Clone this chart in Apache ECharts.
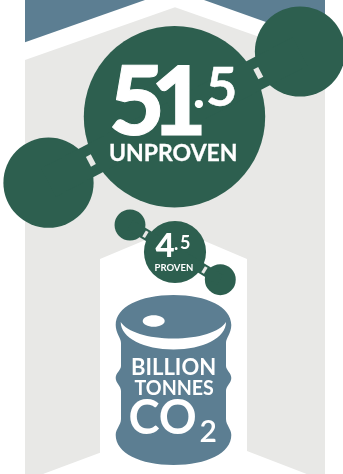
<!DOCTYPE html>
<html>
<head>
<meta charset="utf-8">
<style>html,body{margin:0;padding:0;background:#fff}#main{width:343px;height:474px}</style>
<script src="https://cdn.jsdelivr.net/npm/echarts@6/dist/echarts.min.js"></script>
</head>
<body>
<div id="main"></div>
<script>
// Carbon reserves, in billion tonnes of CO2
const reserveValues = [51.5, 4.5];
const reserveNames = ['UNPROVEN', 'PROVEN'];
const unitLines = ['BILLION', 'TONNES'];
const unitFormula = ['CO', '2'];

const GREEN = '#2d5f4f';
const BLUE = '#5c7e92';
const GREY = '#e8e8e6';

// Molecule layout: centre of each hub and its two satellite atoms
const hubs = [[174.5, 116.7], [175, 252]];
const satellites = [
  [[300, 51.5], [48.5, 182.7]],
  [[130, 225], [220.3, 279.7]]
];
const bandWidths = [32, 11];
const notchSizes = [[5.5, 11], [3.2, 7]];
const notchOffsets = [94.4, 34.5];

// Bubble radius follows the reserve value on a power scale
const radius = v => 90.7 * Math.pow(v / reserveValues[0], 0.44);

const atoms = [];
const links = [];
reserveValues.forEach((v, i) => {
  const r = radius(v);
  atoms.push({ value: [hubs[i][0], hubs[i][1]], symbolSize: r * 2 });
  satellites[i].forEach(s => {
    atoms.push({ value: [s[0], s[1]], symbolSize: r * 0.995 });
    links.push({ value: [hubs[i][0], hubs[i][1], s[0], s[1], i] });
  });
});

function poly(points, fill) {
  return { type: 'polygon', silent: true, shape: { points }, style: { fill } };
}
// Places text by its baseline: the renderer positions the top of the line box.
// A thin outline of the same white gives the heavier display weight.
const ASCENT = 0.835;
function text(str, x, baseline, size, weight, scaleX, outline) {
  return {
    type: 'text', silent: true, x, y: baseline - ASCENT * size, z: 20,
    scaleX: scaleX || 1,
    style: {
      text: str, fill: '#fff', font: weight + ' ' + size + 'px Lato',
      textAlign: 'left', stroke: outline ? '#fff' : null, lineWidth: outline || 0
    }
  };
}

// Barrel outline and rim, with the box each path occupies
const barrelBody =
  'M173.5 295 C207 295 231.3 307 231.3 325 C231.3 333 226 338 226 343 L226 366 ' +
  'C226 370 231.3 373 231.3 378 C231.3 383 226 386 226 391 L226 419 ' +
  'C226 425 231.3 429 231.3 435 C231.3 453 207 465 173.5 465 ' +
  'C140 465 115.7 453 115.7 435 C115.7 429 121 425 121 419 L121 391 ' +
  'C121 386 115.7 383 115.7 378 C115.7 373 121 370 121 366 L121 343 ' +
  'C121 338 115.7 333 115.7 325 C115.7 307 140 295 173.5 295 Z';
const barrelBox = [115.7, 295, 115.6, 170];
const barrelRim =
  'M120.7 322 C127 332 148 338.5 173.5 338.5 C199 338.5 220 332 226 322 ' +
  'C226 338 203 349.5 173.5 349.5 C144 349.5 120.7 338 120.7 322 Z';
const rimBox = [120.7, 322, 105.3, 27.5];

const [bigWhole, bigFrac] = String(reserveValues[0]).split('.');
const [smallWhole, smallFrac] = String(reserveValues[1]).split('.');

const chart = echarts.init(document.getElementById('main'), null, { renderer: 'canvas' });
chart.setOption({
  animation: false,
  backgroundColor: '#fff',
  grid: { left: 0, right: 0, top: 0, bottom: 0 },
  xAxis: { type: 'value', min: 0, max: 343, show: false },
  yAxis: { type: 'value', min: 0, max: 474, inverse: true, show: false },
  graphic: {
    elements: [
      // Roof bands, wall and inner house
      poly([[25, 0], [145, 0], [25, 42.3]], BLUE),
      poly([[204, 0], [325, 0], [325, 43]], BLUE),
      poly([[25, 60], [175, 7.3], [325, 60], [325, 474], [25, 474]], GREY),
      poly([[174, 228], [247, 259], [247, 451], [306.7, 474], [43, 474], [100, 452.7], [100, 259]], '#fff'),
      // Value labels: the large whole part is set tight, digit by digit
      text(bigWhole[0], 109, 136.5, 96, 900, 1, 1),
      text(bigWhole[1], 151, 136.5, 96, 900, 1, 1),
      text('.', 192.5, 108.5, 54, 700),
      text(bigFrac, 206, 107, 54, 700, 1, 0.5),
      text(reserveNames[0], 109, 161.5, 23, 700, 1, 0.3),
      text(smallWhole, 155.5, 257, 33, 900),
      text('.', 174, 250, 18, 700),
      text(smallFrac, 180, 249.5, 18, 700),
      text(reserveNames[1], 154.5, 271, 9.5, 700),
      text(unitLines[0], 131, 375, 22, 700),
      text(unitLines[1], 134.5, 395, 20, 700, 0.98),
      text(unitFormula[0], 128.5, 434.5, 47, 700),
      text(unitFormula[1], 199.5, 442, 30, 600)
    ]
  },
  series: [
    {
      type: 'scatter',
      silent: true,
      z: 2,
      itemStyle: { color: GREEN, opacity: 1 },
      data: atoms
    },
    {
      type: 'custom',
      coordinateSystem: 'cartesian2d',
      silent: true,
      z: 3,
      data: links,
      renderItem(params, api) {
        const a = api.coord([api.value(0), api.value(1)]);
        const b = api.coord([api.value(2), api.value(3)]);
        const i = api.value(4);
        const dx = b[0] - a[0], dy = b[1] - a[1];
        const len = Math.hypot(dx, dy);
        const ux = dx / len, uy = dy / len;
        const nx = -uy, ny = ux;
        const w = bandWidths[i] / 2;
        const [nl, nw] = notchSizes[i];
        const c = [a[0] + ux * notchOffsets[i], a[1] + uy * notchOffsets[i]];
        const rect = (p, along, across, fill) => ({
          type: 'polygon',
          shape: {
            points: [
              [p[0] - ux * along - nx * across, p[1] - uy * along - ny * across],
              [p[0] + ux * along - nx * across, p[1] + uy * along - ny * across],
              [p[0] + ux * along + nx * across, p[1] + uy * along + ny * across],
              [p[0] - ux * along + nx * across, p[1] - uy * along + ny * across]
            ]
          },
          style: { fill }
        });
        return {
          type: 'group',
          children: [
            rect([(a[0] + b[0]) / 2, (a[1] + b[1]) / 2], len / 2, w, GREEN),
            rect(c, nl / 2, nw / 2, GREY)
          ]
        };
      }
    },
    {
      type: 'custom',
      coordinateSystem: 'cartesian2d',
      silent: true,
      z: 4,
      data: [[173.5, 380]],
      renderItem() {
        const path = (d, box, fill) => ({
          type: 'path',
          shape: { pathData: d, x: box[0], y: box[1], width: box[2], height: box[3], layout: 'cover' },
          style: { fill }
        });
        return {
          type: 'group',
          children: [
            path(barrelBody, barrelBox, BLUE),
            path(barrelRim, rimBox, '#fff'),
            { type: 'ellipse', shape: { cx: 153.7, cy: 321, rx: 11, ry: 5.8 }, style: { fill: '#fff' } }
          ]
        };
      }
    }
  ]
});
</script>
</body>
</html>
